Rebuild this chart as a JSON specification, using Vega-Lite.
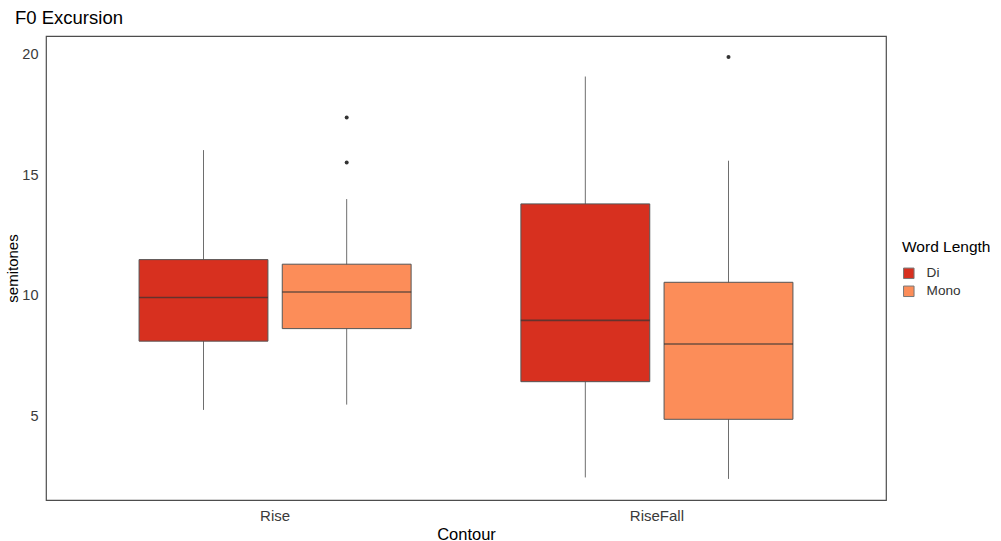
{
  "$schema": "https://vega.github.io/schema/vega-lite/v6.json",
  "autosize": {"type": "none"},
  "width": 840,
  "height": 464,
  "padding": {"left": 46, "top": 36, "right": 115, "bottom": 41},
  "background": "white",
  "config": {
    "font": "Liberation Sans",
    "view": {"stroke": "#4d4d4d", "strokeWidth": 1.2},
    "axis": {"grid": false, "ticks": false, "domain": false, "labelFontSize": 15, "labelColor": "#3a3a3a", "titleFontSize": 16.5, "titleFontWeight": "normal", "titleColor": "#000000"}
  },
  "title": {"text": "F0 Excursion", "anchor": "start", "frame": "group", "dx": -31, "dy": 16, "fontSize": 18.5, "fontWeight": "normal", "color": "#000000", "offset": 10, "baseline": "alphabetic"},
  "datasets": {
    "boxes": [
      {"contour": "Rise", "length": "Di", "lower": 5.27, "q1": 8.12, "median": 9.93, "q3": 11.5, "upper": 16.04},
      {"contour": "Rise", "length": "Mono", "lower": 5.49, "q1": 8.64, "median": 10.16, "q3": 11.31, "upper": 14.01},
      {"contour": "RiseFall", "length": "Di", "lower": 2.47, "q1": 6.44, "median": 8.98, "q3": 13.81, "upper": 19.09},
      {"contour": "RiseFall", "length": "Mono", "lower": 2.41, "q1": 4.88, "median": 8.0, "q3": 10.56, "upper": 15.6}
    ],
    "outliers": [
      {"contour": "Rise", "length": "Mono", "value": 17.39},
      {"contour": "Rise", "length": "Mono", "value": 15.53},
      {"contour": "RiseFall", "length": "Mono", "value": 19.9}
    ]
  },
  "encoding": {
    "x": {"field": "contour", "type": "nominal", "sort": ["Rise", "RiseFall"], "scale": {"paddingInner": 0.25, "paddingOuter": 0.225}, "axis": {"title": "Contour", "labelAngle": 0, "labelPadding": 8, "titlePadding": 3}},
    "xOffset": {"field": "length", "type": "nominal", "sort": ["Di", "Mono"], "scale": {"paddingInner": 0.1, "paddingOuter": 0.05}}
  },
  "layer": [
    {
      "data": {"name": "boxes"},
      "mark": {"type": "rule", "color": "#6e6e6e", "strokeWidth": 1},
      "encoding": {
        "y": {"field": "lower", "type": "quantitative", "scale": {"domain": [1.535, 20.77], "nice": false, "zero": false}, "axis": {"title": "semitones", "values": [5, 10, 15, 20], "labelFontSize": 14.5, "labelPadding": 8, "titleFontSize": 15, "titlePadding": 1}},
        "y2": {"field": "upper"}
      }
    },
    {
      "data": {"name": "boxes"},
      "mark": {"type": "bar", "stroke": "#555555", "strokeWidth": 1},
      "encoding": {
        "y": {"field": "q1", "type": "quantitative"},
        "y2": {"field": "q3"},
        "fill": {"field": "length", "type": "nominal", "sort": ["Di", "Mono"], "scale": {"domain": ["Di", "Mono"], "range": ["#D7301F", "#FC8D59"]}, "legend": {"title": "Word Length", "orient": "none", "legendX": 856, "legendY": 204, "titleFontSize": 15.5, "titleFontWeight": "normal", "titleColor": "#000000", "labelFontSize": 13.6, "labelColor": "#333333", "symbolType": "square", "symbolSize": 110, "symbolStrokeColor": "#777777", "symbolStrokeWidth": 1, "rowPadding": 2, "labelOffset": 11, "titlePadding": 11}}
      }
    },
    {
      "data": {"name": "boxes"},
      "mark": {"type": "tick", "color": "#333333", "size": 129, "thickness": 1.6},
      "encoding": {
        "y": {"field": "median", "type": "quantitative"}
      }
    },
    {
      "data": {"name": "outliers"},
      "mark": {"type": "point", "filled": true, "color": "#333333", "size": 16, "opacity": 1},
      "encoding": {
        "y": {"field": "value", "type": "quantitative"}
      }
    }
  ]
}
